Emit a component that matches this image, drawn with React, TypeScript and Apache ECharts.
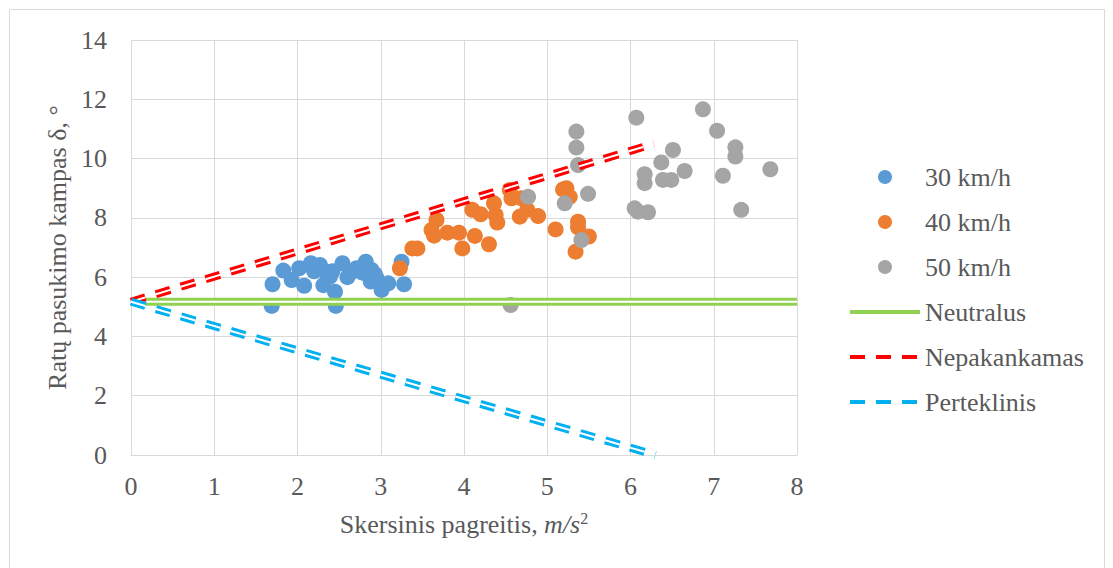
import React, { useEffect, useRef } from "react";
import * as echarts from "echarts";

// Lateral acceleration (m/s²) vs. wheel steering angle (°) measured at three speeds
const speed30: [number, number][] = [
  [1.70, 5.76], [1.69, 5.03], [1.83, 6.22], [1.93, 5.90], [2.02, 6.30], [2.08, 5.71],
  [2.16, 6.47], [2.20, 6.20], [2.27, 6.41], [2.34, 6.18], [2.31, 5.73], [2.39, 6.02],
  [2.42, 6.20], [2.45, 5.51], [2.46, 5.03], [2.54, 6.47], [2.60, 6.00], [2.63, 6.13],
  [2.71, 6.30], [2.78, 6.15], [2.82, 6.52], [2.88, 5.85], [2.89, 6.24], [2.93, 6.10],
  [2.95, 5.96], [3.01, 5.57], [3.09, 5.79], [3.25, 6.52], [3.28, 5.76],
];

const speed40: [number, number][] = [
  [3.23, 6.30], [3.38, 6.97], [3.44, 6.97], [3.61, 7.59], [3.64, 7.40], [3.67, 7.93],
  [3.80, 7.50], [3.94, 7.50], [3.98, 6.97], [4.10, 8.27], [4.13, 7.39], [4.20, 8.12],
  [4.30, 7.11], [4.36, 8.49], [4.38, 8.10], [4.40, 7.84], [4.55, 8.94], [4.57, 8.66],
  [4.69, 8.66], [4.67, 8.04], [4.76, 8.27], [4.89, 8.06], [5.10, 7.61], [5.19, 8.96],
  [5.23, 9.00], [5.27, 8.71], [5.37, 7.87], [5.37, 7.68], [5.50, 7.37], [5.34, 6.86],
];

const speed50: [number, number][] = [
  [6.07, 11.38], [6.87, 11.66], [7.04, 10.94], [5.35, 10.91], [5.35, 10.37], [5.37, 9.78],
  [7.26, 10.38], [7.26, 10.07], [6.51, 10.29], [6.37, 9.87], [6.65, 9.58], [6.17, 9.47],
  [6.17, 9.17], [6.39, 9.28], [6.49, 9.28], [7.11, 9.42], [7.68, 9.64], [6.05, 8.32],
  [6.09, 8.21], [6.21, 8.19], [7.33, 8.27], [5.49, 8.81], [4.77, 8.71], [5.21, 8.49],
  [5.41, 7.25], [4.56, 5.06],
];

// Reference steering characteristics
const neutral: [number, number][] = [[0, 5.17], [8, 5.17]];
const understeer: [number, number][] = [[0, 5.17], [6.28, 10.5]];
const oversteer: [number, number][] = [[0, 5.17], [6.3, 0]];

const pointNames = ["30 km/h", "40 km/h", "50 km/h"];
const lineNames = ["Neutralus", "Nepakankamas", "Perteklinis"];

const FONT = "'Liberation Serif', 'Times New Roman', serif";
const TEXT = "#595959";
const GRID = "#d9d9d9";
const DASH = [15, 11];

// A double stroke: a wide coloured line with a thin white line through its middle
function doubleLine(name: string, data: [number, number][], color: string, dashed: boolean) {
  const type = dashed ? DASH : "solid";
  return [
    {
      type: "line",
      name,
      data,
      symbol: "none",
      silent: true,
      z: 3,
      lineStyle: { color, width: 8, type },
    },
    {
      type: "line",
      name: name + " (tarpas)",
      data,
      symbol: "none",
      silent: true,
      z: 3,
      lineStyle: { color: "#ffffff", width: 2, type },
    },
  ];
}

function scatter(name: string, data: [number, number][], color: string) {
  return {
    type: "scatter",
    name,
    data,
    symbolSize: 16,
    silent: true,
    z: 2,
    itemStyle: { color, opacity: 1 },
  };
}

export default function App() {
  const ref = useRef<HTMLDivElement>(null);

  useEffect(() => {
    if (!ref.current) return;
    const chart = echarts.init(ref.current, undefined, { renderer: "svg" });

    const option = {
      animation: false,
      backgroundColor: "#ffffff",
      textStyle: { fontFamily: FONT },
      graphic: [
        {
          type: "rect",
          shape: { x: 9.5, y: 9.5, width: 1095, height: 600 },
          style: { fill: "none", stroke: GRID, lineWidth: 1 },
          silent: true,
        },
      ],
      grid: { left: 131, right: 316, top: 40, bottom: 113 },
      legend: {
        orient: "vertical",
        left: 843,
        top: 157,
        itemWidth: 70,
        itemHeight: 14,
        itemGap: 15,
        data: [
          ...pointNames,
          ...lineNames.map((name) => ({ name, itemStyle: { opacity: 0 } })),
        ],
        textStyle: { fontFamily: FONT, fontSize: 26, color: TEXT, lineHeight: 30 },
        lineStyle: { width: 4 },
        selectedMode: false,
      },
      xAxis: {
        type: "value",
        min: 0,
        max: 8,
        interval: 1,
        name: "Skersinis pagreitis, {i|m/s}{s|2}",
        nameLocation: "middle",
        nameGap: 55,
        nameTextStyle: {
          fontFamily: FONT,
          fontSize: 26,
          color: TEXT,
          lineHeight: 28,
          rich: {
            i: { fontFamily: FONT, fontSize: 26, color: TEXT, fontStyle: "italic", lineHeight: 28 },
            s: { fontFamily: FONT, fontSize: 16, color: TEXT, verticalAlign: "top", lineHeight: 16 },
          },
        },
        axisLine: { show: true, lineStyle: { color: GRID, width: 1 } },
        axisTick: { show: false },
        axisLabel: { fontFamily: FONT, fontSize: 26, color: TEXT, margin: 18 },
        splitLine: { show: true, lineStyle: { color: GRID, width: 1 } },
      },
      yAxis: {
        type: "value",
        min: 0,
        max: 14,
        interval: 2,
        name: "Ratų pasukimo kampas δ, °",
        nameLocation: "middle",
        nameGap: 52,
        nameTextStyle: { fontFamily: FONT, fontSize: 26, color: TEXT },
        axisLine: { show: true, lineStyle: { color: GRID, width: 1 } },
        axisTick: { show: false },
        axisLabel: { fontFamily: FONT, fontSize: 26, color: TEXT, margin: 24 },
        splitLine: { show: true, lineStyle: { color: GRID, width: 1 } },
      },
      series: [
        scatter("30 km/h", speed30, "#5B9BD5"),
        scatter("40 km/h", speed40, "#ED7D31"),
        scatter("50 km/h", speed50, "#A5A5A5"),
        ...doubleLine("Neutralus", neutral, "#92D050", false),
        ...doubleLine("Nepakankamas", understeer, "#FF0000", true),
        ...doubleLine("Perteklinis", oversteer, "#00B0F0", true),
      ],
    };

    chart.setOption(option as any);
    return () => chart.dispose();
  }, []);

  return (
    <div
      ref={ref}
      style={{ position: "fixed", left: 0, top: 0, width: 1113, height: 568, background: "#ffffff" }}
    />
  );
}
